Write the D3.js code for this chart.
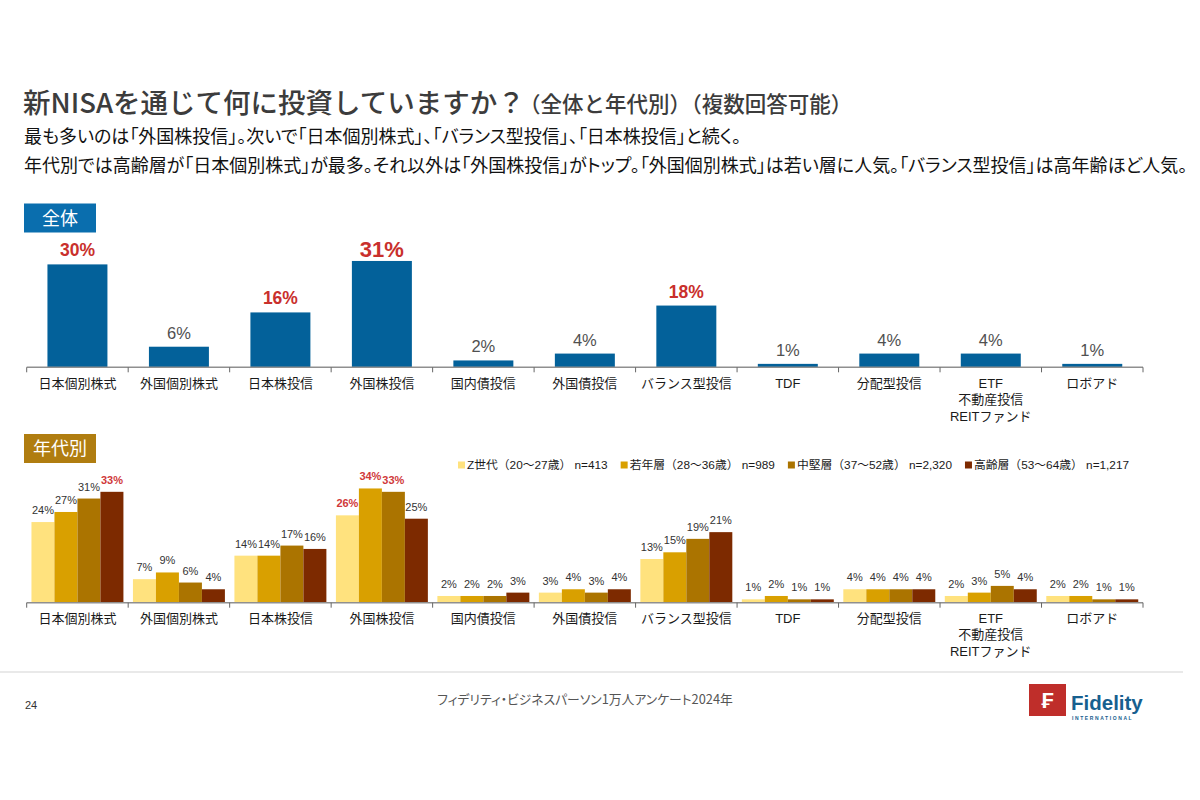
<!DOCTYPE html>
<html><head><meta charset="utf-8">
<script src="https://cdn.jsdelivr.net/npm/d3@7"></script>
<style>
html,body{margin:0;padding:0;background:#fff;}
svg{display:block;}
text{font-family:"Liberation Sans","Noto Sans CJK JP",sans-serif;}
.jp{font-family:"Noto Sans CJK JP","Liberation Sans",sans-serif;}
.palt{font-feature-settings:"palt";}
</style>
</head><body>
<svg id="c" width="1200" height="800"></svg>
<script>
// ---- data ----
const categories = ["日本個別株式","外国個別株式","日本株投信","外国株投信","国内債投信","外国債投信","バランス型投信","TDF","分配型投信","ETF\n不動産投信\nREITファンド","ロボアド"];
const overall = [30,6,16,31,2,4,18,1,4,4,1];
const seriesNames = ["Z世代（20～27歳） n=413","若年層（28～36歳） n=989","中堅層（37～52歳） n=2,320","高齢層（53～64歳） n=1,217"];
const genZ   = [24,7,14,26,2,3,13,1,4,2,2];
const young  = [27,9,14,34,2,4,15,2,4,3,2];
const middle = [31,6,17,33,2,3,19,1,4,5,1];
const senior = [33,4,16,25,3,4,21,1,4,4,1];
const titleMain = "新NISAを通じて何に投資していますか？";
const titleSub = "（全体と年代別）（複数回答可能）";
const lead1 = "最も多いのは「外国株投信」。次いで「日本個別株式」、「バランス型投信」、「日本株投信」と続く。";
const lead2 = "年代別では高齢層が「日本個別株式」が最多。それ以外は「外国株投信」がトップ。「外国個別株式」は若い層に人気。「バランス型投信」は高年齢ほど人気。";
const footerText = "フィデリティ・ビジネスパーソン1万人アンケート2024年";

// ---- layout ----
const svg = d3.select("#c");
const blue = "#03619a", red = "#c9302c";
const seriesColors = ["#ffe27e","#d9a000","#ab7400","#7d2a00"];
const seriesData = [genZ, young, middle, senior];

// header
svg.append("text").attr("class","jp").attr("x",23).attr("y",113)
  .attr("font-size",27.5).attr("font-weight",500).attr("fill","#3c3c3c").text(titleMain);
svg.append("text").attr("class","jp").attr("x",519).attr("y",112)
  .attr("font-size",21.5).attr("font-weight",500).attr("fill","#3c3c3c").text(titleSub);
svg.append("text").attr("class","jp palt").attr("x",24).attr("y",143)
  .attr("font-size",18).attr("fill","#111").text(lead1);
svg.append("text").attr("class","jp palt").attr("x",24).attr("y",172)
  .attr("font-size",18).attr("fill","#111").text(lead2);

// section tags
function tag(label, y, color){
  svg.append("rect").attr("x",24).attr("y",y).attr("width",72).attr("height",29).attr("fill",color);
  svg.append("text").attr("class","jp").attr("x",60).attr("y",y+15).attr("dy","0.35em")
    .attr("text-anchor","middle").attr("font-size",18).attr("fill","#fff").text(label);
}
tag("全体", 203.5, "#0a6eae");
tag("年代別", 434, "#b07d10");

const x = d3.scaleBand().domain(categories).range([26.7, 1143]).padding(0);

function axis(yBase, labelY){
  const g = svg.append("g");
  g.append("line").attr("x1",x.range()[0]).attr("x2",x.range()[1]).attr("y1",yBase).attr("y2",yBase)
    .attr("stroke","#8f8f8f").attr("stroke-width",1.6);
  const bounds = categories.map(c=>x(c)).concat([x.range()[1]]);
  g.selectAll("line.tk").data(bounds).join("line").attr("class","tk")
    .attr("x1",d=>d).attr("x2",d=>d).attr("y1",yBase).attr("y2",yBase+5)
    .attr("stroke","#666").attr("stroke-width",1);
  const lab = g.selectAll("text.cat").data(categories).join("text").attr("class","cat")
    .attr("text-anchor","middle").attr("font-size",13).attr("fill","#1a1a1a");
  lab.each(function(d){
    const t = d3.select(this);
    d.split("\n").forEach((s,i)=>{
      t.append("tspan").attr("x", x(d)+x.bandwidth()/2).attr("y", labelY + i*16.4).attr("dy","0.35em").text(s);
    });
  });
}

// ---- top chart ----
const yTop = d3.scaleLinear().domain([0,35]).range([367.3, 367.3-35*3.43]);
const xIn1 = d3.scaleBand().domain(["all"]).range([0, x.bandwidth()]).padding(0.257);
const ranked = overall.slice().sort((a,b)=>b-a);
const top4 = ranked[3], maxAll = ranked[0];
svg.append("g").selectAll("rect").data(overall).join("rect")
  .attr("x",(d,i)=>x(categories[i])+xIn1("all")).attr("width",xIn1.bandwidth())
  .attr("y",d=>yTop(d)).attr("height",d=>yTop(0)-yTop(d)).attr("fill",blue);
svg.append("g").selectAll("text").data(overall).join("text")
  .attr("x",(d,i)=>x(categories[i])+x.bandwidth()/2)
  .attr("y",d=>yTop(d)- (d===maxAll?4:8))
  .attr("text-anchor","middle")
  .attr("font-size",d=>d===maxAll?22:(d>=top4?17.5:16.5))
  .attr("font-weight",d=>d>=top4?"bold":"normal")
  .attr("fill",d=>d>=top4?red:"#505050")
  .text(d=>d+"%");
axis(367.3, 383.5);

// ---- bottom chart ----
const yBot = d3.scaleLinear().domain([0,35]).range([602.7, 602.7-35*3.36]);
const xIn = d3.scaleBand().domain(d3.range(4)).range([0, x.bandwidth()]).paddingInner(0).paddingOuter(0.207);
seriesData.forEach((vals, s)=>{
  const mx = d3.max(vals);
  const g = svg.append("g");
  g.selectAll("rect").data(vals).join("rect")
    .attr("x",(d,i)=>x(categories[i])+xIn(s)).attr("width",xIn.bandwidth())
    .attr("y",d=>yBot(d)).attr("height",d=>yBot(0)-yBot(d)).attr("fill",seriesColors[s]);
  g.selectAll("text").data(vals).join("text")
    .attr("x",(d,i)=>x(categories[i])+xIn(s)+xIn.bandwidth()/2)
    .attr("y",d=>yBot(d)-8)
    .attr("text-anchor","middle").attr("font-size",11)
    .attr("font-weight",d=>d===mx?"bold":"normal")
    .attr("fill",d=>d===mx?"#d0393a":"#333")
    .text(d=>d+"%");
});
axis(602.7, 618.5);

// legend
const leg = svg.append("g");
let lx = 458;
seriesNames.forEach((n,i)=>{
  leg.append("rect").attr("x",lx).attr("y",461.5).attr("width",7).attr("height",7).attr("fill",seriesColors[i]);
  const t = leg.append("text").attr("x",lx+9).attr("y",465).attr("dy","0.35em")
    .attr("font-size",11.8).attr("fill","#1a1a1a").text(n);
  lx += 9 + t.node().getComputedTextLength() + 13;
});

// footer
svg.append("line").attr("x1",0).attr("x2",1183).attr("y1",672).attr("y2",672).attr("stroke","#e2e2e2").attr("stroke-width",1.5);
svg.append("text").attr("x",25).attr("y",705).attr("dy","0.35em").attr("font-size",11).attr("fill","#333").text("24");
svg.append("text").attr("class","jp palt").attr("x",585).attr("y",700).attr("dy","0.35em").attr("text-anchor","middle")
  .attr("font-size",12.8).attr("fill","#555").text(footerText);
// logo
svg.append("rect").attr("x",1029).attr("y",684).attr("width",37).attr("height",32).attr("fill","#bf2e2a");
svg.append("text").attr("x",1047.5).attr("y",700).attr("dy","0.36em").attr("text-anchor","middle")
  .attr("font-family","DejaVu Sans").attr("font-weight","bold").attr("font-size",22).attr("fill","#fff").text("₣");
svg.append("text").attr("x",1071).attr("y",710).attr("font-size",20.5).attr("font-weight","bold").attr("fill","#17608f").text("Fidelity");
svg.append("text").attr("x",1072).attr("y",720).attr("font-size",5).attr("font-weight","bold").attr("letter-spacing",1.6).attr("fill","#17608f").text("INTERNATIONAL");
</script>
</body></html>
